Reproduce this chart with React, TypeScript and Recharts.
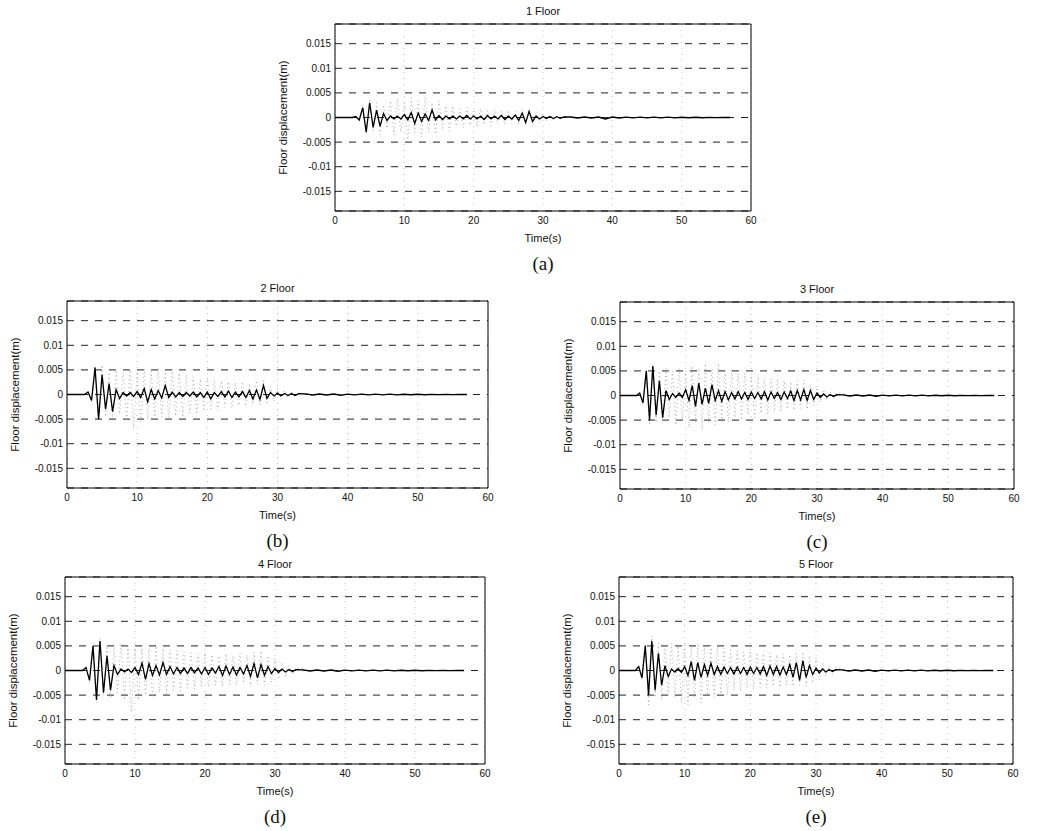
import React from "react";
import { LineChart, Line, XAxis, YAxis, CartesianGrid, ReferenceArea, Label } from "recharts";

// Shared time axis (s)
const time = [
  0, 2.5,
  3, 3.5, 4, 4.5, 5, 5.5, 6, 6.5, 7, 7.5, 8, 8.5, 9, 9.5, 10, 10.5, 11, 11.5, 12, 12.5,
  13, 13.5, 14, 14.5, 15, 15.5, 16, 16.5, 17, 17.5, 18, 18.5, 19, 19.5, 20, 20.5, 21, 21.5,
  22, 22.5, 23, 23.5, 24, 24.5, 25, 25.5, 26, 26.5, 27, 27.5, 28, 28.5, 29, 29.5, 30, 30.5,
  31, 31.5, 32, 32.5, 33,
  34, 35, 36, 37, 38, 39, 40, 41, 42, 43, 44, 45, 46, 47, 48, 49, 50, 51, 52, 53, 54, 55, 56, 57,
];

const xTicks = [0, 10, 20, 30, 40, 50, 60];
const yTicks = [-0.015, -0.01, -0.005, 0, 0.005, 0.01, 0.015];
const yTickLabels = ["-0.015", "-0.01", "-0.005", "0", "0.005", "0.01", "0.015"];

// Displacements in mm. lead = before shaking, tail = free decay after 33 s.
const lead = [0, 0];
const tailGraySmall = [0.15, -0.12, 0.1, -0.1, 0.12, -0.1, 0.08, -0.08, 0.06, -0.06, 0.05, -0.05, 0.05, -0.04, 0.04, -0.04, 0.03, -0.03, 0.03, -0.03, 0.02, -0.02, 0.02, 0];
const tailGrayMid = [0.2, -0.2, 0.15, -0.15, 0.12, -0.12, 0.1, -0.1, 0.08, -0.08, 0.07, -0.07, 0.06, -0.06, 0.05, -0.05, 0.04, -0.04, 0.04, -0.04, 0.03, -0.03, 0.02, 0];
const tailGrayLarge = [0.4, -0.35, 0.3, -0.25, 0.2, -0.2, 0.15, -0.15, 0.12, -0.1, 0.1, -0.1, 0.08, -0.07, 0.06, -0.06, 0.05, -0.05, 0.04, -0.04, 0.03, -0.03, 0.02, 0];
const tailBlackA = [0.1, -0.1, 0.1, -0.1, 0.1, -0.3, 0.1, -0.1, 0.08, -0.08, 0.08, -0.08, 0.06, -0.06, 0.06, -0.06, 0.05, -0.05, 0.05, -0.05, 0.04, -0.04, 0.03, 0];
const tailBlack = [0.12, -0.1, 0.1, -0.1, 0.1, -0.15, 0.08, -0.08, 0.08, -0.08, 0.06, -0.06, 0.06, -0.06, 0.05, -0.05, 0.05, -0.05, 0.04, -0.04, 0.03, -0.03, 0.02, 0];

// 1 Floor
const grayA = [
  0.3, -0.8, 2.5, -3.2, 3.8, -2.8, 3.0, -3.5, 2.6, -2.2, 3.4, -3.6, 3.8, -3.0, 3.0, -4.5,
  4.0, -3.2, 3.4, -4.0, 4.2, -3.0, 3.0, -3.4, 3.4, -2.6, 2.4, -2.8, 2.3, -1.8, 1.8, -2.1,
  2.0, -1.6, 1.6, -1.8, 1.8, -1.5, 1.4, -1.7, 1.6, -1.3, 1.3, -1.5, 1.5, -1.2, 1.2, -1.4,
  1.6, -1.3, 1.8, -1.5, 1.0, -1.1, 0.7, -0.6, 0.5, -0.4, 0.3, -0.3, 0.2,
];
const blackA = [
  0.2, -0.5, 2.0, -3.0, 3.0, -2.0, 1.5, -1.8, 0.8, -0.6, 0.3, -0.3, 0.3, -0.3, 0.6, -0.5,
  1.0, -1.2, 0.9, -0.8, 0.7, -0.6, 1.5, -0.5, 0.4, -0.4, 0.3, -0.3, 0.3, -0.3, 0.3, -0.3,
  0.4, -0.3, 0.3, -0.3, 0.3, -0.4, 0.4, -0.3, 0.3, -0.3, 0.4, -0.4, 0.3, -0.3, 0.5, -0.6,
  0.9, -1.0, 1.2, -0.8, 0.3, -0.3, 0.2, -0.2, 0.2, -0.2, 0.15, -0.15, 0.1,
];

// 2 Floor
const grayB = [
  0.5, -1.5, 4.0, -5.0, 6.0, -4.5, 4.5, -5.0, 5.0, -4.0, 4.5, -5.5, 5.0, -7.0, 4.6, -5.5,
  5.2, -5.0, 4.8, -5.4, 5.4, -4.6, 4.6, -5.0, 5.2, -4.4, 4.4, -4.6, 4.0, -3.8, 3.6, -4.0,
  3.2, -3.4, 3.4, -3.0, 3.0, -3.2, 2.8, -2.6, 2.6, -2.8, 2.4, -2.2, 2.6, -2.4, 2.2, -2.0,
  2.8, -2.2, 3.0, -2.0, 1.6, -1.4, 1.2, -1.0, 0.8, -0.7, 0.5, -0.4, 0.3,
];
const blackB = [
  0.5, -1.2, 5.5, -5.0, 4.0, -3.0, 2.2, -3.5, 1.0, -0.8, 0.4, -0.3, 0.4, -0.4, 0.6, -0.6,
  1.2, -1.5, 1.0, -0.9, 0.8, -0.7, 1.8, -0.6, 0.5, -0.5, 0.4, -0.4, 0.4, -0.3, 0.5, -0.5,
  0.4, -0.6, 0.5, -0.9, 0.4, -0.4, 0.6, -0.5, 0.7, -0.6, 0.5, -0.5, 0.6, -0.6, 0.8, -0.9,
  0.9, -1.0, 1.8, -0.8, 0.4, -0.3, 0.3, -0.3, 0.2, -0.2, 0.2, -0.2, 0.15,
];

// 3 Floor
const grayC = [
  0.5, -2.0, 5.0, -6.0, 6.5, -5.5, 5.0, -5.5, 5.5, -4.5, 5.0, -6.0, 5.5, -5.0, 5.0, -6.5,
  6.0, -5.5, 5.5, -7.0, 6.5, -5.5, 5.5, -6.0, 6.5, -5.0, 5.0, -5.5, 5.5, -4.5, 4.5, -5.0,
  4.5, -4.0, 4.0, -4.5, 3.8, -3.6, 3.5, -3.8, 3.4, -3.2, 3.2, -3.4, 3.0, -2.8, 2.8, -3.0,
  3.0, -2.6, 3.2, -2.8, 2.2, -2.0, 1.6, -1.4, 1.2, -1.0, 0.8, -0.6, 0.5,
];
const blackC = [
  0.5, -1.5, 5.0, -5.0, 6.0, -4.0, 3.0, -4.5, 1.0, -0.8, 0.4, -0.4, 0.5, -0.4, 1.2, -1.0,
  2.0, -2.2, 2.5, -1.8, 1.5, -1.6, 2.2, -1.0, 1.0, -1.2, 0.8, -0.9, 0.6, -0.7, 0.8, -0.7,
  0.6, -0.8, 0.7, -0.6, 0.6, -0.7, 0.8, -0.9, 0.7, -0.6, 0.6, -0.8, 0.7, -0.6, 0.9, -1.0,
  1.0, -0.9, 1.2, -1.0, 1.0, -0.8, 0.5, -0.4, 0.3, -0.3, 0.2, -0.2, 0.15,
];

// 4 Floor
const grayD = [
  1.0, -2.5, 5.5, -6.5, 6.5, -5.0, 5.0, -5.5, 5.0, -4.5, 5.5, -6.0, 5.0, -8.5, 4.5, -6.0,
  5.0, -5.0, 4.5, -5.5, 5.0, -4.5, 4.5, -4.8, 4.2, -4.0, 4.0, -4.2, 3.8, -3.6, 3.6, -3.8,
  3.4, -3.2, 3.6, -3.4, 3.2, -3.0, 3.0, -3.2, 3.4, -2.8, 3.0, -3.0, 3.6, -2.6, 3.2, -3.0,
  3.8, -2.8, 4.0, -3.0, 3.0, -2.4, 2.4, -1.8, 1.6, -1.2, 1.0, -0.8, 0.6,
];
const blackD = [
  0.6, -2.0, 5.0, -6.0, 6.0, -4.5, 3.0, -4.0, 1.0, -0.8, 0.3, -0.3, 0.3, -0.4, 0.6, -0.8,
  1.5, -1.8, 1.4, -1.0, 1.0, -0.9, 1.6, -0.8, 0.8, -0.7, 0.6, -0.6, 0.5, -0.6, 0.6, -0.5,
  0.5, -0.7, 0.6, -0.8, 0.5, -0.5, 0.8, -1.0, 0.9, -0.8, 0.7, -0.9, 0.6, -0.7, 1.0, -1.2,
  1.4, -1.5, 1.2, -1.0, 0.8, -0.6, 0.4, -0.4, 0.3, -0.3, 0.2, -0.2, 0.15,
];

// 5 Floor
const grayE = [
  1.0, -2.0, 5.5, -7.0, 7.0, -5.5, 5.5, -6.0, 5.0, -5.0, 5.5, -5.5, 5.0, -6.5, 5.5, -7.0,
  5.0, -5.5, 5.5, -6.5, 5.0, -5.0, 5.5, -5.5, 4.8, -4.8, 4.5, -5.0, 4.2, -4.0, 4.0, -4.2,
  3.8, -3.6, 4.0, -3.8, 3.6, -3.4, 3.4, -3.6, 3.6, -3.2, 3.2, -3.4, 3.4, -3.0, 3.2, -3.2,
  3.6, -3.0, 3.8, -3.2, 3.0, -2.6, 2.6, -2.0, 1.6, -1.2, 1.0, -0.8, 0.6,
];
const blackE = [
  0.8, -1.5, 5.0, -5.0, 6.0, -4.0, 3.5, -3.0, 1.0, -1.2, 0.3, -0.3, 0.4, -0.4, 0.8, -1.0,
  1.8, -2.0, 1.6, -1.4, 1.2, -1.0, 1.5, -0.8, 0.8, -0.8, 0.7, -0.6, 0.6, -0.7, 0.7, -0.6,
  0.6, -0.8, 0.7, -0.6, 0.6, -0.7, 0.8, -1.0, 0.9, -0.8, 0.8, -0.9, 0.7, -0.8, 1.2, -1.4,
  1.6, -2.0, 2.0, -1.4, 1.0, -0.8, 0.5, -0.5, 0.3, -0.3, 0.2, -0.2, 0.15,
];

function buildRows(gray: number[], black: number[]) {
  return time.map((t, i) => ({
    t,
    uncontrolled: gray[i] / 1000,
    controlled: black[i] / 1000,
  }));
}

const font = "'Liberation Sans', Arial, Helvetica, sans-serif";
const Y_AXIS_W = 62;
const TOP = 22;
const RIGHT = 8;
const PLOT_H = 187;
const X_AXIS_H = 38;
const CHART_H = TOP + PLOT_H + X_AXIS_H;

type PanelProps = {
  left: number;
  top: number;
  plotWidth: number;
  title: string;
  tag: string;
  rows: { t: number; uncontrolled: number; controlled: number }[];
};

const FloorPanel: React.FC<PanelProps> = ({ left, top, plotWidth, title, tag, rows }) => {
  const width = Y_AXIS_W + plotWidth + RIGHT;
  const plotLeft = left + Y_AXIS_W;
  const plotTop = top + TOP;
  return (
    <>
      <div
        style={{
          position: "absolute",
          left: plotLeft,
          top: plotTop - 19,
          width: plotWidth,
          textAlign: "center",
          fontFamily: font,
          fontSize: 11,
          lineHeight: "13px",
          color: "#111",
        }}
      >
        {title}
      </div>
      <div style={{ position: "absolute", left, top }}>
        <LineChart
          width={width}
          height={CHART_H}
          data={rows}
          margin={{ top: TOP, right: RIGHT, bottom: 0, left: 0 }}
        >
          <CartesianGrid horizontal={false} stroke="#c4c4c4" strokeDasharray="1 5" />
          <CartesianGrid vertical={false} stroke="#222" strokeDasharray="7 7" />
          <XAxis
            dataKey="t"
            type="number"
            domain={[0, 60]}
            ticks={xTicks}
            allowDataOverflow
            height={X_AXIS_H}
            axisLine={false}
            tickLine={false}
            tickSize={0}
            tickMargin={6}
            tick={{ fontSize: 10, fill: "#111", fontFamily: font }}
          >
            <Label
              value="Time(s)"
              position="insideBottom"
              offset={7}
              style={{ fontSize: 11, fill: "#111", fontFamily: font }}
            />
          </XAxis>
          <YAxis
            type="number"
            domain={[-0.019, 0.019]}
            ticks={yTicks}
            allowDataOverflow
            width={Y_AXIS_W}
            axisLine={false}
            tickLine={false}
            tickSize={0}
            tickMargin={4}
            tickFormatter={(v: number) => yTickLabels[yTicks.indexOf(v)] ?? String(v)}
            tick={{ fontSize: 10, fill: "#111", fontFamily: font }}
          >
            <Label
              content={({ viewBox }: any) => {
                const cx = viewBox.x + 10;
                const cy = viewBox.y + viewBox.height / 2;
                return (
                  <text
                    x={cx}
                    y={cy}
                    transform={`rotate(-90 ${cx} ${cy})`}
                    textAnchor="middle"
                    dominantBaseline="central"
                    fontSize={11.5}
                    fontFamily={font}
                    fill="#111"
                  >
                    Floor displacement(m)
                  </text>
                );
              }}
            />
          </YAxis>
          <Line
            type="linear"
            dataKey="uncontrolled"
            stroke="#999"
            strokeWidth={0.8}
            strokeDasharray="1 3"
            dot={false}
            isAnimationActive={false}
          />
          <Line
            type="linear"
            dataKey="controlled"
            stroke="#000"
            strokeWidth={1.3}
            dot={false}
            isAnimationActive={false}
          />
          <ReferenceArea x1={0} x2={60} y1={-0.019} y2={0.019} fill="none" stroke="#000" strokeWidth={1} />
        </LineChart>
      </div>
      <div
        style={{
          position: "absolute",
          left: plotLeft,
          top: plotTop + PLOT_H + 42,
          width: plotWidth,
          textAlign: "center",
          fontFamily: "'Liberation Serif', 'Times New Roman', serif",
          fontSize: 19,
          lineHeight: "22px",
          color: "#111",
        }}
      >
        {tag}
      </div>
    </>
  );
};

export default function App() {
  return (
    <div
      style={{
        position: "absolute",
        left: 0,
        top: 0,
        width: 1051,
        height: 831,
        background: "#fff",
        overflow: "hidden",
      }}
    >
      <FloorPanel left={273} top={2} plotWidth={416} title="1 Floor" tag="(a)" rows={buildRows([...lead, ...grayA, ...tailGraySmall], [...lead, ...blackA, ...tailBlackA])} />
      <FloorPanel left={5} top={279} plotWidth={421} title="2 Floor" tag="(b)" rows={buildRows([...lead, ...grayB, ...tailGrayMid], [...lead, ...blackB, ...tailBlack])} />
      <FloorPanel left={558} top={280} plotWidth={394} title="3 Floor" tag="(c)" rows={buildRows([...lead, ...grayC, ...tailGrayLarge], [...lead, ...blackC, ...tailBlack])} />
      <FloorPanel left={3} top={555} plotWidth={420} title="4 Floor" tag="(d)" rows={buildRows([...lead, ...grayD, ...tailGrayLarge], [...lead, ...blackD, ...tailBlack])} />
      <FloorPanel left={557} top={555} plotWidth={394} title="5 Floor" tag="(e)" rows={buildRows([...lead, ...grayE, ...tailGrayLarge], [...lead, ...blackE, ...tailBlack])} />
    </div>
  );
}
